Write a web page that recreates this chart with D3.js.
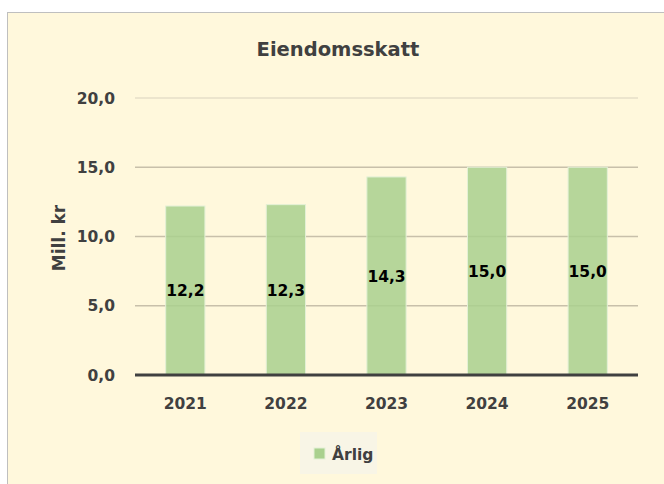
<!DOCTYPE html>
<html>
<head>
<meta charset="utf-8"/>
<script src="https://cdn.jsdelivr.net/npm/d3@7"></script>
<style>
html, body {
  margin: 0;
  padding: 0;
  background: #fff;
}
svg text {
  font-family: "DejaVu Sans", sans-serif;
  font-weight: bold;
}
</style>
</head>
<body>
<svg id="chart" width="664" height="484"></svg>
<script type="text/javascript">

var years = ["2021", "2022", "2023", "2024", "2025"];
var values = [12.2, 12.3, 14.3, 15.0, 15.0];
var yTicks = [0, 5, 10, 15, 20];
var title = "Eiendomsskatt";
var yTitle = "Mill. kr";
var seriesName = "Årlig";

var fmt = function(v) { return d3.format(".1f")(v).replace(".", ","); };

var svg = d3.select("#chart");

// chart area
svg.append("rect")
    .attr("x", 7.5).attr("y", 12.5)
    .attr("width", 664).attr("height", 480)
    .attr("fill", "#fff8dc")
    .attr("stroke", "#bfbfbf")
    .attr("stroke-width", 1);

var margin = {left: 135, right: 638, top: 98, bottom: 375};

var x = d3.scaleBand()
    .domain(years)
    .range([margin.left, margin.right])
    .paddingInner(0.61)
    .paddingOuter(0.305);

var y = d3.scaleLinear()
    .domain([0, 20])
    .range([margin.bottom, margin.top]);

// gridlines
svg.append("g")
  .selectAll("line")
  .data(yTicks.filter(function(d) { return d > 0; }))
  .enter().append("line")
    .attr("x1", margin.left).attr("x2", margin.right)
    .attr("y1", function(d) { return y(d); })
    .attr("y2", function(d) { return y(d); })
    .attr("stroke", function(d) { return d === 20 ? "#e6dfc9" : "#c8c0aa"; })
    .attr("stroke-width", 1.5);

// bars
svg.append("g")
  .selectAll("rect")
  .data(values)
  .enter().append("rect")
    .attr("x", function(d, i) { return x(years[i]); })
    .attr("y", function(d) { return y(d); })
    .attr("width", x.bandwidth())
    .attr("height", function(d) { return y(0) - y(d); })
    .attr("fill", "#a9d08e")
    .attr("fill-opacity", 0.85)
    .attr("stroke", "#e3f0d6")
    .attr("stroke-width", 1);

// value labels
svg.append("g")
  .selectAll("text")
  .data(values)
  .enter().append("text")
    .attr("x", function(d, i) { return x(years[i]) + x.bandwidth() / 2; })
    .attr("y", function(d) { return (y(0) + y(d)) / 2; })
    .attr("dy", "0.37em")
    .attr("text-anchor", "middle")
    .attr("font-size", 15.5)
    .attr("fill", "#000")
    .text(fmt);

// x axis line
svg.append("line")
    .attr("x1", margin.left).attr("x2", margin.right)
    .attr("y1", y(0)).attr("y2", y(0))
    .attr("stroke", "#404040")
    .attr("stroke-width", 3);

// x tick labels
svg.append("g")
  .selectAll("text")
  .data(years)
  .enter().append("text")
    .attr("x", function(d) { return x(d) + x.bandwidth() / 2; })
    .attr("y", 409)
    .attr("text-anchor", "middle")
    .attr("font-size", 15.5)
    .attr("fill", "#404040")
    .text(function(d) { return d; });

// y tick labels
svg.append("g")
  .selectAll("text")
  .data(yTicks)
  .enter().append("text")
    .attr("x", 115)
    .attr("y", function(d) { return y(d); })
    .attr("dy", "0.37em")
    .attr("text-anchor", "end")
    .attr("font-size", 15.5)
    .attr("fill", "#404040")
    .text(fmt);

// y title
svg.append("text")
    .attr("transform", "translate(65,238) rotate(-90)")
    .attr("text-anchor", "middle")
    .attr("font-size", 17)
    .attr("fill", "#404040")
    .text(yTitle);

// title
svg.append("text")
    .attr("x", 338).attr("y", 56)
    .attr("text-anchor", "middle")
    .attr("font-size", 19.5)
    .attr("fill", "#404040")
    .text(title);

// legend
var legend = svg.append("g");
legend.append("rect")
    .attr("x", 300).attr("y", 432)
    .attr("width", 77).attr("height", 42)
    .attr("fill", "#f8f5e6");
legend.append("rect")
    .attr("x", 314).attr("y", 448)
    .attr("width", 11).attr("height", 11)
    .attr("fill", "#a9d08e")
    .attr("stroke", "#e3f0d6");
legend.append("text")
    .attr("x", 332).attr("y", 460)
    .attr("font-size", 15.5)
    .attr("fill", "#404040")
    .text(seriesName);

</script>
</body>
</html>
